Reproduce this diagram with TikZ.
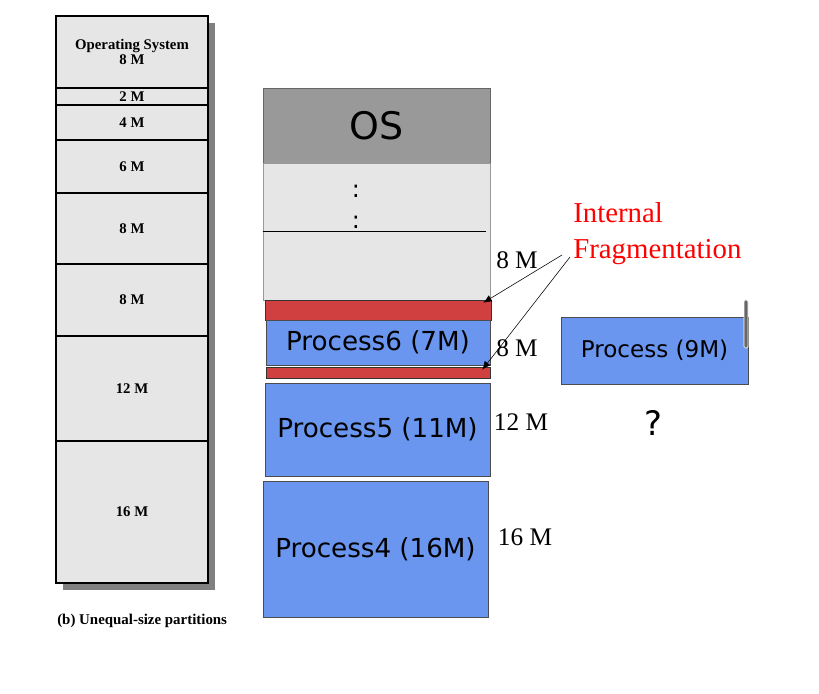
\documentclass[tikz,border=0pt]{standalone}
\usepackage{fontspec}
\setmainfont{Liberation Serif}
\newfontfamily\vsans{DejaVu Sans}
\usetikzlibrary{positioning,backgrounds,arrows.meta}

\definecolor{partgray}{RGB}{230,230,230}
\definecolor{osgray}{RGB}{153,153,153}
\definecolor{shadowgray}{RGB}{128,128,128}
\definecolor{procblue}{RGB}{106,150,240}
\definecolor{fragred}{RGB}{208,64,64}

\begin{document}
\begin{tikzpicture}[x=0.025cm,y=-0.025cm,
  part/.style={draw,line width=1.1pt,fill=partgray,minimum width=3.8cm,inner sep=0pt,outer sep=0pt,align=center,font=\bfseries\fontsize{10.5}{11}\selectfont},
  size/.style={font=\fontsize{18}{20}\selectfont},
  proc/.style={draw=black!70,fill=procblue,inner sep=0pt,font=\vsans\fontsize{18.6}{20}\selectfont},
  frag/.style={draw=black!80,fill=fragred,inner sep=0pt},
  fragtext/.style={anchor=west,inner sep=0pt,text=red,font=\fontsize{20.5}{22}\selectfont}]
        \useasboundingbox (0,0) rectangle (819,694);

        % fixed partitions, unequal sizes
        \node[part,minimum height=1.8cm] (p1) at (132,52) {Operating System\\8 M};
        \node[part,minimum height=0.425cm,below=0pt of p1] (p2) {2 M};
        \node[part,minimum height=0.875cm,below=0pt of p2] (p3) {4 M};
        \node[part,minimum height=1.325cm,below=0pt of p3] (p4) {6 M};
        \node[part,minimum height=1.775cm,below=0pt of p4] (p5) {8 M};
        \node[part,minimum height=1.8cm,below=0pt of p5] (p6) {8 M};
        \node[part,minimum height=2.625cm,below=0pt of p6] (p7) {12 M};
        \node[part,minimum height=3.55cm,below=0pt of p7] (p8) {16 M};
        \begin{scope}[on background layer]
            \fill[shadowgray] ([shift={(7,7)}]p1.north west) rectangle ([shift={(7,7)}]p8.south east);
        \end{scope}
        \node[anchor=west,inner sep=0pt,font=\bfseries\fontsize{10.6}{12}\selectfont] (cap) at (57,621) {(b) Unequal-size partitions};

        % memory with loaded processes
        \node[draw=black!60,fill=osgray,minimum width=5.675cm,minimum height=1.875cm,font=\vsans\fontsize{27}{30}\selectfont] (os) at (376.5,125.5) {OS};
        \node[draw=black!40,fill=partgray,minimum width=5.675cm,minimum height=3.425cm] (free) at (376.5,231.5) {};
        \draw (free.west) -- ([xshift=-3]free.east);
        \node[font=\vsans\fontsize{17}{20}\selectfont] (dotA) at (356,191) {:};
        \node[font=\vsans\fontsize{17}{20}\selectfont] (dotB) at (356,222) {:};

        \node[frag,minimum width=5.65cm,minimum height=0.5cm] (red1) at (378,310) {};
        \node[proc,minimum width=5.6cm,minimum height=1.125cm] (proc6) at (378,342.5) {Process6 (7M)\hspace{8pt}};
        \node[frag,minimum width=5.6cm,minimum height=0.275cm] (red2) at (378,372.5) {};
        \node[proc,minimum width=5.625cm,minimum height=2.325cm] (proc5) at (377.5,429.5) {Process5 (11M)\hspace{4pt}};
        \node[proc,minimum width=5.625cm,minimum height=3.4cm] (proc4) at (375.5,549) {Process4 (16M)};

        \node[size] (s1) at (517,260) {8 M};
        \node[size] (s2) at (517,348) {8 M};
        \node[size] (s3) at (521,422) {12 M};
        \node[size] (s4) at (525,537) {16 M};

        \node[fragtext] (fragA) at (573,213) {Internal};
        \node[fragtext] (fragB) at (573,252) {Fragmentation};
        \draw[-{Latex[length=6pt,width=5pt]}] ([shift={(-11,3)}]fragB.west) -- ([shift={(-8,3)}]red1.north east);
        \draw[-{Latex[length=6pt,width=5pt]}] ([shift={(-3,5)}]fragB.west) -- ([shift={(-8,3)}]red2.north east);

        % waiting process
        \node[proc,minimum width=4.675cm,minimum height=1.675cm,font=\vsans\fontsize{16.4}{18}\selectfont] (proc9) at (654.5,350.5) {Process (9M)\hspace{10pt}};
        \node[draw=white,fill=black!60,rounded corners=1pt,minimum width=0.1cm,minimum height=1.2cm,inner sep=0pt] (bar) at (746,324) {};
        \node[font=\vsans\fontsize{24}{26}\selectfont] (ask) at (653,423) {?};
    \end{tikzpicture}
\end{document}
